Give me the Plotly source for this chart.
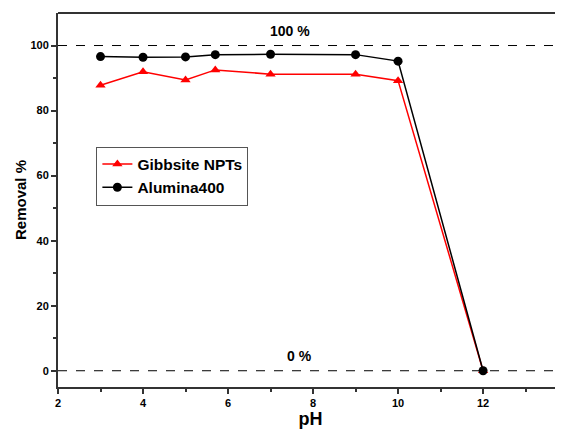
import plotly.graph_objects as go

ph = [3, 4, 5, 5.7, 7, 9, 10, 12]
gibbsite = [87.8, 91.9, 89.4, 92.5, 91.2, 91.2, 89.2, 0]
alumina = [96.6, 96.4, 96.5, 97.2, 97.3, 97.2, 95.2, 0]

fig = go.Figure()
fig.add_trace(go.Scatter(x=ph, y=gibbsite, mode="lines+markers", name="<b>Gibbsite NPTs</b>",
                         line=dict(color="#ff0000", width=1.5),
                         marker=dict(symbol="triangle-up", size=9, color="#ff0000")))
fig.add_trace(go.Scatter(x=ph, y=alumina, mode="lines+markers", name="<b>Alumina400</b>",
                         line=dict(color="black", width=1.5),
                         marker=dict(symbol="circle", size=9, color="black")))

for yv in [100, 0]:
    fig.add_shape(type="line", xref="paper", x0=0, x1=1, yref="y", y0=yv, y1=yv,
                  line=dict(color="black", width=1, dash="dash"))

fig.add_annotation(x=7.45, y=104.6, text="<b>100 %</b>", showarrow=False,
                   font=dict(family="Liberation Sans, Arial", size=14, color="black"))
fig.add_annotation(x=7.67, y=4.5, text="<b>0 %</b>", showarrow=False,
                   font=dict(family="Liberation Sans, Arial", size=14, color="black"))

fig.update_layout(
    width=555, height=423,
    margin=dict(l=50, r=0, t=5, b=44),
    plot_bgcolor="white", paper_bgcolor="white",
    font=dict(family="Liberation Sans, Arial", color="black"),
    showlegend=True,
    legend=dict(x=0.076, y=0.643, xanchor="left", yanchor="top",
                bordercolor="#555", borderwidth=1, bgcolor="white",
                font=dict(size=15.5, family="Liberation Sans, Arial"),
                itemwidth=30, tracegroupgap=0),
    xaxis=dict(range=[2, 13.88], tickvals=[2, 4, 6, 8, 10, 12],
               ticktext=["<b>%d</b>" % v for v in [2, 4, 6, 8, 10, 12]],
               ticks="outside", ticklen=5, tickwidth=1.5, tickcolor="#333",
               minor=dict(tickvals=[3, 5, 7, 9, 11, 13], ticks="outside", ticklen=3, tickcolor="#333"),
               showline=True, linecolor="#333", linewidth=2, mirror=False,
               showgrid=False, zeroline=False, automargin=False,
               tickfont=dict(size=11),
               title=dict(text="<b>pH</b>", font=dict(size=18), standoff=2)),
    yaxis=dict(range=[-5, 110], tickvals=[0, 20, 40, 60, 80, 100],
               ticktext=["<b>%d</b>" % v for v in [0, 20, 40, 60, 80, 100]],
               ticks="outside", ticklen=5, tickwidth=1.5, tickcolor="#333",
               minor=dict(tickvals=[10, 30, 50, 70, 90], ticks="outside", ticklen=3, tickcolor="#333"),
               showline=True, linecolor="#333", linewidth=2,
               showgrid=False, zeroline=False, automargin=False,
               tickfont=dict(size=11),
               title=dict(text="<b>Removal %</b>", font=dict(size=15), standoff=0)),
)
fig.add_shape(type="line", xref="paper", yref="paper", x0=0, x1=1, y0=1, y1=1,
              line=dict(color="#333", width=2))

fig.write_html("out.html")
